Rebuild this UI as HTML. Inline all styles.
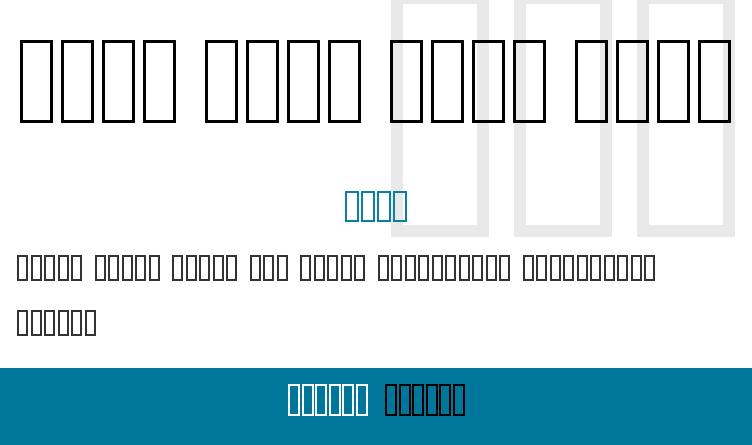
<!DOCTYPE html>
<html><head><meta charset="utf-8"><style>
html,body{margin:0;padding:0;width:752px;height:445px;overflow:hidden;background:#fff;font-family:"Liberation Sans","Noto Sans CJK SC",sans-serif;position:relative}
.row{position:absolute;display:flex;white-space:nowrap}
.row i{display:block;box-sizing:border-box;font-style:normal;color:transparent;overflow:hidden;font-size:8px;line-height:1;flex:none}
.wm i{width:98px;height:245px;border:12px solid #e9e9e9;margin-right:25px}
.t i{width:33px;height:83px;border:3px solid #000;margin-right:8px}
.t b{display:block;width:21px;flex:none}
.s i{width:14px;height:31px;border:2px solid #0a7f9f;margin-right:2px}
.bd i{width:11px;height:26px;border:2px solid #333;margin-right:2.5px}
.bd b{display:block;width:10px;flex:none}
.fw i{width:12px;height:32px;border:2px solid #fff;margin-right:1.5px}
.fk i{width:12px;height:32px;border:2px solid #000;margin-right:1.5px}
.band{position:absolute;left:0;top:368px;width:752px;height:77px;background:#00769a}
</style></head><body>
<div class="row wm" style="left:391px;top:-8px"><i>文</i><i>字</i><i>体</i></div>
<div class="row t" style="left:20px;top:40px"><i>字</i><i>字</i><i>字</i><i>字</i><b></b><i>字</i><i>字</i><i>字</i><i>字</i><b></b><i>字</i><i>字</i><i>字</i><i>字</i><b></b><i>字</i><i>字</i><i>字</i><i>字</i></div>
<div class="row s" style="left:345px;top:191px"><i>字</i><i>字</i><i>字</i><i>字</i></div>
<div class="row bd" style="left:17px;top:255px"><i>字</i><i>字</i><i>字</i><i>字</i><i>字</i><b></b><i>字</i><i>字</i><i>字</i><i>字</i><i>字</i><b></b><i>字</i><i>字</i><i>字</i><i>字</i><i>字</i><b></b><i>字</i><i>字</i><i>字</i><b></b><i>字</i><i>字</i><i>字</i><i>字</i><i>字</i><b></b><i>字</i><i>字</i><i>字</i><i>字</i><i>字</i><i>字</i><i>字</i><i>字</i><i>字</i><i>字</i><b></b><i>字</i><i>字</i><i>字</i><i>字</i><i>字</i><i>字</i><i>字</i><i>字</i><i>字</i><i>字</i></div>
<div class="row bd" style="left:17px;top:310px"><i>字</i><i>字</i><i>字</i><i>字</i><i>字</i><i>字</i></div>
<div class="band"></div>
<div class="row fw" style="left:288px;top:384px"><i>字</i><i>字</i><i>字</i><i>字</i><i>字</i><i>字</i></div>
<div class="row fk" style="left:385px;top:384px"><i>字</i><i>字</i><i>字</i><i>字</i><i>字</i><i>字</i></div>
</body></html>
